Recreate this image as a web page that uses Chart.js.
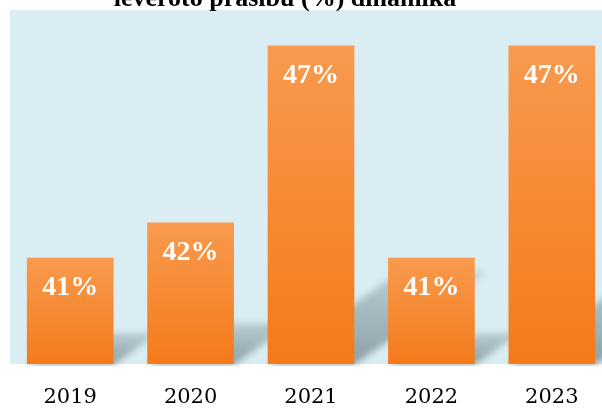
<!DOCTYPE html>
<html>
<head>
<meta charset="utf-8">
<script src="https://cdn.jsdelivr.net/npm/chart.js@4"></script>
<style>
  html, body { margin: 0; padding: 0; background: #fff; overflow: hidden; }
  #wrap { position: relative; width: 612px; height: 408px; }
</style>
</head>
<body>
<div id="wrap"><canvas id="c"></canvas></div>
<script>
const titleText = 'ievēroto prasību (%) dinamika';
const categories = ['2019', '2020', '2021', '2022', '2023'];
const values = [41, 42, 47, 41, 47];
const yMin = 38;
const yMax = 48;

const bgPlugin = {
  id: 'bg',
  beforeDraw(chart) {
    const { ctx, chartArea: a } = chart;
    ctx.save();
    ctx.fillStyle = '#DAEDF3';
    ctx.fillRect(a.left, a.top, a.right - a.left, a.bottom - a.top);
    ctx.restore();
  }
};

function boxBlur(src, W, H, r) {
  const tmp = new Float32Array(W * H);
  const out = new Float32Array(W * H);
  const d = 2 * r + 1;
  for (let y = 0; y < H; y++) {
    for (let x = 0; x < W; x++) {
      let s = 0;
      for (let k = -r; k <= r; k++) {
        const xx = Math.min(W - 1, Math.max(0, x + k));
        s += src[y * W + xx];
      }
      tmp[y * W + x] = s / d;
    }
  }
  for (let y = 0; y < H; y++) {
    for (let x = 0; x < W; x++) {
      let s = 0;
      for (let k = -r; k <= r; k++) {
        const yy = Math.min(H - 1, Math.max(0, y + k));
        s += tmp[yy * W + x];
      }
      out[y * W + x] = s / d;
    }
  }
  return out;
}

function drawShadows(chart) {
  const { ctx, chartArea: a } = chart;
  const meta = chart.getDatasetMeta(0);
  const W = Math.ceil(a.right - a.left), H = Math.ceil(a.bottom - a.top) + 6;
  const off = document.createElement('canvas');
  off.width = W; off.height = H;
  const o = off.getContext('2d');
  o.translate(-a.left, -a.top);
  meta.data.forEach(bar => {
    const x = bar.x, y = bar.y, width = bar.width;
    const base = a.bottom;
    const h = base - y;
    const xl = x - width / 2, xr = x + width / 2;
    const dy = h * 0.29, dx = dy / 0.7;
    const g = o.createLinearGradient(0, base, 0, base - dy);
    g.addColorStop(0, 'rgba(0,0,0,0.52)');
    g.addColorStop(1, 'rgba(0,0,0,0.22)');
    o.fillStyle = g;
    o.beginPath();
    o.moveTo(xl, base + 1);
    o.lineTo(xr, base + 1);
    o.lineTo(xr + dx, base - dy);
    o.lineTo(xl + dx, base - dy);
    o.closePath();
    o.fill();
  });
  const img = o.getImageData(0, 0, W, H);
  const al = new Float32Array(W * H);
  for (let i = 0; i < W * H; i++) al[i] = img.data[i * 4 + 3] / 255;
  let b = boxBlur(al, W, H, 3);
  b = boxBlur(b, W, H, 4);
  for (let i = 0; i < W * H; i++) {
    img.data[i * 4] = 70;
    img.data[i * 4 + 1] = 90;
    img.data[i * 4 + 2] = 98;
    img.data[i * 4 + 3] = Math.round(Math.min(1, b[i]) * 255);
  }
  o.setTransform(1, 0, 0, 1, 0, 0);
  o.putImageData(img, 0, 0);
  ctx.save();
  ctx.beginPath();
  ctx.rect(a.left, a.top, a.right - a.left, a.bottom - a.top + 2);
  ctx.clip();
  ctx.drawImage(off, a.left, a.top);
  ctx.restore();
}

const shadowPlugin = {
  id: 'barShadow',
  beforeDatasetsDraw(chart) { drawShadows(chart); }
};

const labelPlugin = {
  id: 'labels',
  afterDatasetsDraw(chart) {
    const { ctx } = chart;
    const meta = chart.getDatasetMeta(0);
    ctx.save();
    ctx.fillStyle = '#FFFFFF';
    ctx.font = 'bold 28px "Liberation Serif"';
    ctx.textAlign = 'center';
    ctx.textBaseline = 'middle';
    meta.data.forEach((bar, i) => {
      ctx.fillText(values[i] + '%', bar.x, bar.y + 30);
    });
    ctx.restore();
  },
  afterDraw(chart) {
    const { ctx } = chart;
    ctx.save();
    ctx.fillStyle = '#000000';
    ctx.font = 'bold 26px "Liberation Serif"';
    ctx.textAlign = 'center';
    ctx.textBaseline = 'alphabetic';
    ctx.fillText(titleText, 285, 6);
    ctx.restore();
  }
};

new Chart(document.getElementById('c'), {
  type: 'bar',
  data: {
    labels: categories,
    datasets: [{
      data: values,
      barPercentage: 0.72,
      categoryPercentage: 1.0,
      borderWidth: 0,
      backgroundColor: (c) => {
        const chart = c.chart;
        if (!chart.chartArea) return '#F58A30';
        const ys = chart.scales.y;
        const top = ys.getPixelForValue(values[c.dataIndex]);
        const bot = ys.getPixelForValue(yMin);
        const g = chart.ctx.createLinearGradient(0, top, 0, bot);
        g.addColorStop(0, '#F89A4E');
        g.addColorStop(1, '#F47A1A');
        return g;
      }
    }]
  },
  options: {
    responsive: true,
    maintainAspectRatio: false,
    animation: false,
    layout: { padding: { left: 10, top: 10, right: 0, bottom: 0 } },
    plugins: { legend: { display: false }, tooltip: { enabled: false }, title: { display: false } },
    scales: {
      y: { display: false, min: yMin, max: yMax },
      x: {
        grid: { display: false, drawTicks: false },
        border: { display: false },
        ticks: { color: '#000', font: { family: 'DejaVu Serif', size: 21 }, padding: 21 },
        afterFit(scale) { scale.height = 44; }
      }
    }
  },
  plugins: [bgPlugin, shadowPlugin, labelPlugin]
});
</script>
</body>
</html>
